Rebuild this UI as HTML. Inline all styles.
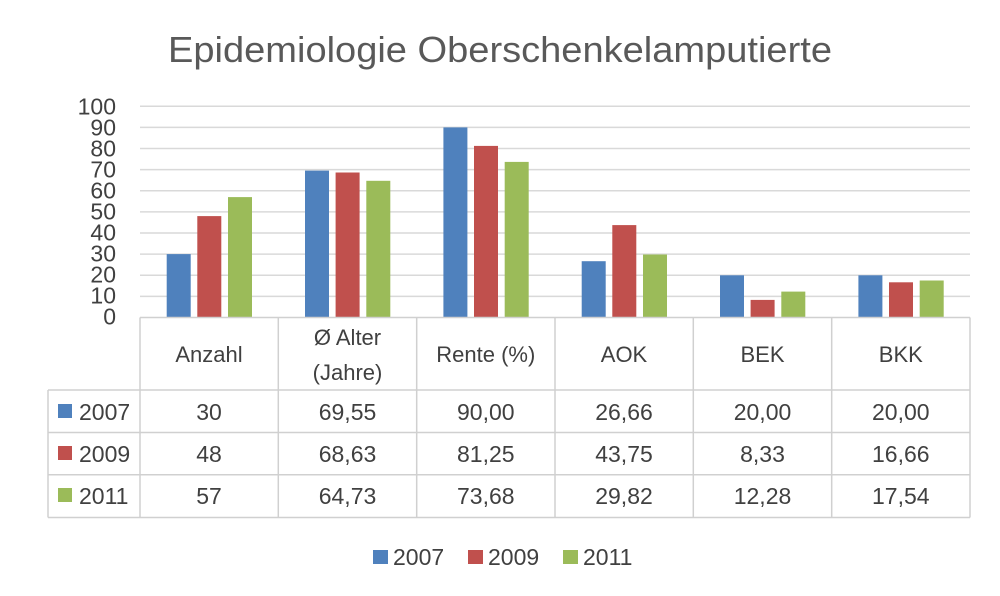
<!DOCTYPE html>
<html><head><meta charset="utf-8"><style>
html,body{margin:0;padding:0;background:#fff;}
svg{display:block;font-family:"Liberation Sans",sans-serif;}
</style></head><body>
<svg width="1000" height="596" viewBox="0 0 1000 596" xmlns="http://www.w3.org/2000/svg">
<rect width="1000" height="596" fill="#fff"/>
<text x="500" y="62" text-anchor="middle" font-size="36" fill="#595959" textLength="664" lengthAdjust="spacingAndGlyphs">Epidemiologie Oberschenkelamputierte</text>
<g stroke="#d9d9d9" stroke-width="1.5">
<line x1="140" x2="970" y1="106.3" y2="106.3"/>
<line x1="140" x2="970" y1="127.4" y2="127.4"/>
<line x1="140" x2="970" y1="148.5" y2="148.5"/>
<line x1="140" x2="970" y1="169.6" y2="169.6"/>
<line x1="140" x2="970" y1="190.8" y2="190.8"/>
<line x1="140" x2="970" y1="211.9" y2="211.9"/>
<line x1="140" x2="970" y1="233.0" y2="233.0"/>
<line x1="140" x2="970" y1="254.1" y2="254.1"/>
<line x1="140" x2="970" y1="275.2" y2="275.2"/>
<line x1="140" x2="970" y1="296.4" y2="296.4"/>
</g>
<g font-size="23" fill="#404040" text-anchor="end">
<text x="116" y="114.5">100</text><text x="116" y="135.5">90</text><text x="116" y="156.5">80</text>
<text x="116" y="177.5">70</text><text x="116" y="198.5">60</text><text x="116" y="219.5">50</text>
<text x="116" y="240.5">40</text><text x="116" y="261.5">30</text><text x="116" y="282.5">20</text>
<text x="116" y="303.5">10</text><text x="116" y="324.5">0</text>
</g>
<g>
<rect x="166.7" y="254.1" width="24" height="63.4" fill="#4f81bd"/>
<rect x="197.3" y="216.1" width="24" height="101.4" fill="#c0504d"/>
<rect x="228" y="197.1" width="24" height="120.4" fill="#9bbb59"/>

<rect x="305" y="170.6" width="24" height="146.9" fill="#4f81bd"/>
<rect x="335.6" y="172.5" width="24" height="145.0" fill="#c0504d"/>
<rect x="366.3" y="180.8" width="24" height="136.7" fill="#9bbb59"/>

<rect x="443.4" y="127.4" width="24" height="190.1" fill="#4f81bd"/>
<rect x="474" y="145.9" width="24" height="171.6" fill="#c0504d"/>
<rect x="504.7" y="161.9" width="24" height="155.6" fill="#9bbb59"/>

<rect x="581.7" y="261.2" width="24" height="56.3" fill="#4f81bd"/>
<rect x="612.3" y="225.1" width="24" height="92.4" fill="#c0504d"/>
<rect x="643" y="254.5" width="24" height="63.0" fill="#9bbb59"/>

<rect x="720" y="275.3" width="24" height="42.2" fill="#4f81bd"/>
<rect x="750.6" y="299.9" width="24" height="17.6" fill="#c0504d"/>
<rect x="781.3" y="291.6" width="24" height="25.9" fill="#9bbb59"/>

<rect x="858.4" y="275.3" width="24" height="42.2" fill="#4f81bd"/>
<rect x="889" y="282.3" width="24" height="35.2" fill="#c0504d"/>
<rect x="919.7" y="280.5" width="24" height="37.0" fill="#9bbb59"/>
</g>
<g stroke="#d0d0d0" stroke-width="1.5" fill="none">
<line x1="140" x2="970" y1="317.5" y2="317.5"/>
<line x1="48" x2="970" y1="390" y2="390"/>
<line x1="48" x2="970" y1="432.5" y2="432.5"/>
<line x1="48" x2="970" y1="474.8" y2="474.8"/>
<line x1="48" x2="970" y1="517.5" y2="517.5"/>
<line x1="48" x2="48" y1="390" y2="517.5"/>
<line x1="140" x2="140" y1="317.5" y2="517.5"/>
<line x1="278.3" x2="278.3" y1="317.5" y2="517.5"/>
<line x1="416.7" x2="416.7" y1="317.5" y2="517.5"/>
<line x1="555" x2="555" y1="317.5" y2="517.5"/>
<line x1="693.3" x2="693.3" y1="317.5" y2="517.5"/>
<line x1="831.7" x2="831.7" y1="317.5" y2="517.5"/>
<line x1="970" x2="970" y1="317.5" y2="517.5"/>
</g>
<g font-size="22" fill="#404040" text-anchor="middle">
<text x="209" y="362">Anzahl</text>
<text x="347.5" y="345">Ø Alter</text><text x="347.5" y="380">(Jahre)</text>
<text x="485.8" y="362">Rente (%)</text>
<text x="624" y="362">AOK</text>
<text x="762.5" y="362">BEK</text>
<text x="900.8" y="362">BKK</text>
</g>
<g font-size="23" fill="#404040" text-anchor="middle">
<text x="209" y="420">30</text><text x="347.5" y="420">69,55</text><text x="485.8" y="420">90,00</text>
<text x="624" y="420">26,66</text><text x="762.5" y="420">20,00</text><text x="900.8" y="420">20,00</text>
<text x="209" y="462">48</text><text x="347.5" y="462">68,63</text><text x="485.8" y="462">81,25</text>
<text x="624" y="462">43,75</text><text x="762.5" y="462">8,33</text><text x="900.8" y="462">16,66</text>
<text x="209" y="504">57</text><text x="347.5" y="504">64,73</text><text x="485.8" y="504">73,68</text>
<text x="624" y="504">29,82</text><text x="762.5" y="504">12,28</text><text x="900.8" y="504">17,54</text>
</g>
<g font-size="23" fill="#404040">
<rect x="58" y="404" width="14" height="14" fill="#4f81bd"/><text x="79" y="420">2007</text>
<rect x="58" y="446" width="14" height="14" fill="#c0504d"/><text x="79" y="462">2009</text>
<rect x="58" y="488" width="14" height="14" fill="#9bbb59"/><text x="79" y="504">2011</text>

<rect x="373" y="550" width="15" height="14" fill="#4f81bd"/><text x="393" y="565">2007</text>
<rect x="468" y="550" width="15" height="14" fill="#c0504d"/><text x="488" y="565">2009</text>
<rect x="563" y="550" width="15" height="14" fill="#9bbb59"/><text x="583" y="565">2011</text>
</g>
</svg>
</body></html>
